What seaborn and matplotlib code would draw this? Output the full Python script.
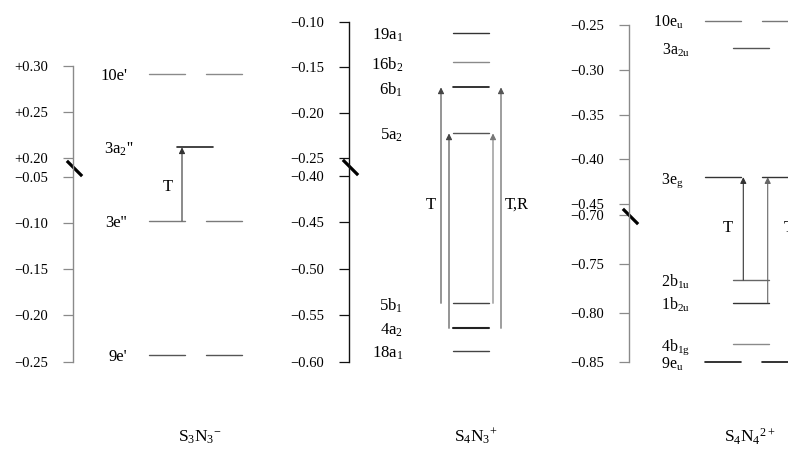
import numpy as np
import pandas as pd
import matplotlib
matplotlib.use("Agg")
import matplotlib.pyplot as plt
import seaborn as sns

# --- data: orbital energies (hartree) ---
s3n3_levels = ["10e'", "3a$_2$''", "3e''", "9e'"]
s3n3_energy = [0.291, 0.212, -0.0975, -0.243]
s3n3_degen = [True, False, True, True]
s3n3_ticks = [0.30, 0.25, 0.20, -0.05, -0.10, -0.15, -0.20, -0.25]
s3n3_ticklabels = ["+0.30", "+0.25", "+0.20", "\u22120.05", "\u22120.10",
                   "\u22120.15", "\u22120.20", "\u22120.25"]
s3n3_trans = [("3e''", "3a$_2$''")]
s3n3_trans_labels = ["T"]

s4n3_levels = ["19a$_1$", "16b$_2$", "6b$_1$", "5a$_2$", "5b$_1$", "4a$_2$", "18a$_1$"]
s4n3_energy = [-0.1127, -0.1446, -0.1721, -0.2226, -0.5372, -0.5641, -0.5882]
s4n3_degen = [False] * 7
s4n3_ticks = [-0.10, -0.15, -0.20, -0.25, -0.40, -0.45, -0.50, -0.55, -0.60]
s4n3_ticklabels = ["\u22120.10", "\u22120.15", "\u22120.20", "\u22120.25", "\u22120.40",
                   "\u22120.45", "\u22120.50", "\u22120.55", "\u22120.60"]
s4n3_trans = [("5b$_1$", "6b$_1$"), ("4a$_2$", "5a$_2$"),
              ("5b$_1$", "5a$_2$"), ("4a$_2$", "6b$_1$")]
s4n3_trans_labels = ["T", "T,R"]

s4n4_levels = ["10e$_\\mathrm{u}$", "3a$_\\mathrm{2u}$", "3e$_\\mathrm{g}$", "2b$_\\mathrm{1u}$",
               "1b$_\\mathrm{2u}$", "4b$_\\mathrm{1g}$", "9e$_\\mathrm{u}$"]
s4n4_energy = [-0.245, -0.276, -0.420, -0.7665, -0.7897, -0.8322, -0.850]
s4n4_degen = [True, False, True, False, False, False, True]
s4n4_ticks = [-0.25, -0.30, -0.35, -0.40, -0.45, -0.70, -0.75, -0.80, -0.85]
s4n4_ticklabels = ["\u22120.25", "\u22120.30", "\u22120.35", "\u22120.40", "\u22120.45",
                   "\u22120.70", "\u22120.75", "\u22120.80", "\u22120.85"]
s4n4_trans = [("2b$_\\mathrm{1u}$", "3e$_\\mathrm{g}$"), ("1b$_\\mathrm{2u}$", "3e$_\\mathrm{g}$")]
s4n4_trans_labels = ["T", "T"]

titles = ["S$_3$N$_3$$^{-}$", "S$_4$N$_3$$^{+}$", "S$_4$N$_4$$^{2+}$"]

# --- layout / style (pixels offsets from the axis line) ---
panels = [
    dict(levels=s3n3_levels, energy=s3n3_energy, degen=s3n3_degen,
         ticks=s3n3_ticks, ticklabels=s3n3_ticklabels,
         trans=s3n3_trans, tlabels=s3n3_trans_labels,
         spine_px=73, top_px=66, lo=-0.05, hi=0.20, gap=0.020, k=1.0, mark=0.075,
         axis_color="#8a8a8a",
         colors=["#8a8a8a", "#222222", "#7a7a7a", "#555555"],
         widths=[1.0, 1.2, 1.0, 1.0],
         arrow_x=[109], arrow_colors=["#333333"],
         tlabel_pos=[(95, -0.061)], title_x=127, single_label_x=60, label_size=12),
    dict(levels=s4n3_levels, energy=s4n3_energy, degen=s4n3_degen,
         ticks=s4n3_ticks, ticklabels=s4n3_ticklabels,
         trans=s4n3_trans, tlabels=s4n3_trans_labels,
         spine_px=349, top_px=21.7, lo=-0.40, hi=-0.25, gap=0.0187, k=0.98, mark=-0.325,
         axis_color="#111111",
         colors=["#333333", "#8a8a8a", "#111111", "#555555", "#444444", "#222222", "#444444"],
         widths=[1.0, 1.0, 1.2, 1.0, 1.0, 1.5, 1.0],
         arrow_x=[92, 100, 144, 152],
         arrow_colors=["#444444", "#444444", "#777777", "#555555"],
         tlabel_pos=[(82, -0.4315), (168, -0.4315)], title_x=127, single_label_x=54,
         label_size=12),
    dict(levels=s4n4_levels, energy=s4n4_energy, degen=s4n4_degen,
         ticks=s4n4_ticks, ticklabels=s4n4_ticklabels,
         trans=s4n4_trans, tlabels=s4n4_trans_labels,
         spine_px=629.3, top_px=25, lo=-0.70, hi=-0.45, gap=0.0112, k=0.915, mark=-0.7015,
         axis_color="#8a8a8a",
         colors=["#777777", "#555555", "#333333", "#666666", "#333333", "#8a8a8a", "#111111"],
         widths=[1.0, 1.0, 1.0, 1.0, 1.0, 1.0, 1.2],
         arrow_x=[114, 138.4], arrow_colors=["#333333", "#666666"],
         tlabel_pos=[(99, -0.7133), (160, -0.7133)], title_x=121, single_label_x=61,
         label_size=11.5),
]

W, H = 788, 450
BOTTOM_PX = 361.7
LEFT_COL, RIGHT_COL, SINGLE = 94, 151, 122
HALF = 18


def broken_scale(lo, hi, gap, k):
    def fwd(v):
        v = np.asarray(v, dtype=float)
        mid = lo + (v - lo) * gap / (hi - lo)
        up = lo + gap + (v - hi) * k
        return np.where(v <= lo, v, np.where(v >= hi, up, mid))

    def inv(y):
        y = np.asarray(y, dtype=float)
        mid = lo + (y - lo) * (hi - lo) / gap
        up = hi + (y - lo - gap) / k
        return np.where(y <= lo, y, np.where(y >= lo + gap, up, mid))
    return fwd, inv


sns.set_theme(style="white")
plt.rcParams["font.family"] = ["Liberation Serif", "DejaVu Serif"]
plt.rcParams["mathtext.fontset"] = "custom"
plt.rcParams["mathtext.rm"] = "Liberation Serif"
plt.rcParams["mathtext.it"] = "Liberation Serif:italic"
plt.rcParams["mathtext.default"] = "regular"
plt.rcParams["text.color"] = "black"

fig = plt.figure(figsize=(W / 100, H / 100), dpi=100)

for p, title in zip(panels, titles):
    height = (BOTTOM_PX - p["top_px"]) / H
    ax = fig.add_axes([p["spine_px"] / W, 1 - BOTTOM_PX / H, 180 / W, height])
    ax.set_facecolor("none")
    fwd, inv = broken_scale(p["lo"], p["hi"], p["gap"], p["k"])
    ax.set_yscale("function", functions=(fwd, inv))

    # level segments -> long table for seaborn
    rows = []
    seg = 0
    for name, e, dg in zip(p["levels"], p["energy"], p["degen"]):
        centers = [LEFT_COL, RIGHT_COL] if dg else [SINGLE]
        for cx in centers:
            rows.append((cx - HALF, e, seg, name))
            rows.append((cx + HALF, e, seg, name))
            seg += 1
        lx = 54 if dg else p["single_label_x"]
        ax.text(lx, e, name, ha="right", va="center_baseline",
                fontsize=p["label_size"], color="black")
    palette = dict(zip(p["levels"], p["colors"]))
    sizes = dict(zip(p["levels"], p["widths"]))
    df = pd.DataFrame(rows, columns=["x", "E", "seg", "level"])
    sns.lineplot(data=df, x="x", y="E", units="seg", hue="level", palette=palette,
                 size="level", sizes=sizes, estimator=None, sort=False,
                 legend=False, ax=ax)
    for line in ax.get_lines():
        line.set_clip_on(False)

    # transitions
    emap = dict(zip(p["levels"], p["energy"]))
    for (a, b), x, c in zip(p["trans"], p["arrow_x"], p["arrow_colors"]):
        ax.annotate("", xy=(x, emap[b]), xytext=(x, emap[a]),
                    arrowprops=dict(arrowstyle="-|>", color=c, lw=0.8,
                                    mutation_scale=9, shrinkA=0, shrinkB=0),
                    annotation_clip=False)
    for lab, (tx, ty) in zip(p["tlabels"], p["tlabel_pos"]):
        ax.text(tx, ty, lab, ha="center", va="center", fontsize=12,
                color="black", clip_on=False)

    # axis
    ax.set_xlim(0, 180)
    ax.set_ylim(min(p["ticks"]), max(p["ticks"]))
    ax.set_yticks(p["ticks"], p["ticklabels"])
    ax.set_xticks([])
    ax.set_xlabel("")
    ax.set_ylabel("")
    sns.despine(ax=ax, top=True, right=True, bottom=True)
    ax.spines["left"].set_color(p["axis_color"])
    ax.spines["left"].set_linewidth(1.0)
    ax.tick_params(axis="y", direction="out", length=7, width=0.9,
                   color=p["axis_color"], labelsize=10.5, labelcolor="black", pad=11, left=True)

    # axis break mark
    ax.plot([1], [p["mark"]], marker=[(-1, 1), (1, -1)], ms=11, mew=2.3,
            color="black", clip_on=False)

    ax.annotate(title, xy=(p["title_x"], 1 - 437 / H), xycoords=("data", "figure fraction"),
                ha="center", va="center", fontsize=12.5, color="black",
                annotation_clip=False)

fig.savefig("out.png", dpi=100)
